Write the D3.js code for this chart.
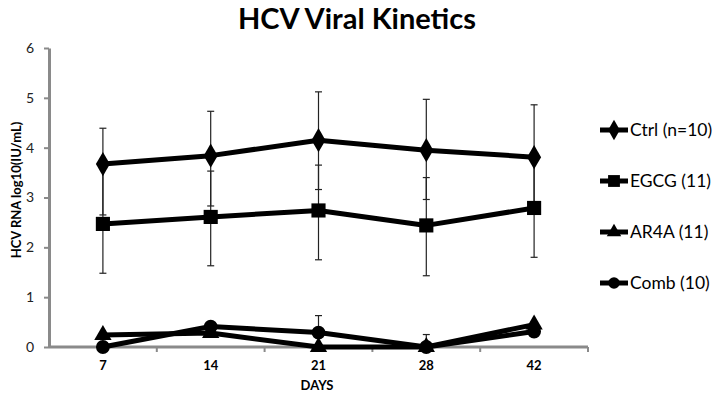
<!DOCTYPE html>
<html lang="en">
<head>
    <meta charset="UTF-8">
    <title>HCV Viral Kinetics</title>
    <script src="https://d3js.org/d3.v7.min.js"></script>
    <style>
        body {
            margin: 0;
            padding: 0;
            background-color: #ffffff;
            font-family: Lato, "Open Sans", sans-serif;
        }

        .title {
            font-size: 29px;
            font-weight: bold;
            text-anchor: middle;
        }

        .axis-label {
            font-size: 13px;
            font-weight: bold;
            text-anchor: middle;
        }

        .legend text {
            font-size: 17.5px;
        }
    </style>
</head>
<body>
    <div id="chart"></div>
    <script>
        // chart values
        const days = ["7", "14", "21", "28", "42"];
        const yTicks = [0, 1, 2, 3, 4, 5, 6];

        const seriesNames = ["Ctrl (n=10)", "EGCG (11)", "AR4A (11)", "Comb (10)"];
        const ctrl = [3.67, 3.84, 4.15, 3.95, 3.81];
        const egcg = [2.47, 2.61, 2.74, 2.44, 2.79];
        const ar4a = [0.24, 0.28, 0, 0, 0.45];
        const comb = [0, 0.41, 0.29, 0, 0.31];

        // error bars (plus / minus)
        const ctrlPlus = [0.72, 0.89, 0.97, 1.02, 1.05];
        const ctrlMinus = [1.02, 1.01, 0.99, 0.99, 1.03];
        const egcgPlus = [1.12, 0.92, 0.91, 0.96, 1.02];
        const egcgMinus = [0.99, 0.98, 0.99, 1.01, 0.99];
        const ar4aPlus = [0, 0, 0, 0, 0];
        const ar4aMinus = [0, 0, 0, 0, 0];
        const combPlus = [0, 0, 0.34, 0.25, 0];
        const combMinus = [0, 0, 0.34, 0.25, 0];

        const width = 721;
        const height = 402;
        const margin = { top: 48, right: 133, bottom: 55, left: 49 };

        const svg = d3.select("#chart")
            .append("svg")
            .attr("width", width)
            .attr("height", height);

        const x = d3.scaleBand()
            .domain(days)
            .range([margin.left, width - margin.right])
            .padding(0);

        const y = d3.scaleLinear()
            .domain([0, 6])
            .range([height - margin.bottom, margin.top]);

        const cx = d => x(d) + x.bandwidth() / 2;

        const axisColor = "#8a8a8a";

        // y axis
        const yAxis = svg.append("g")
            .attr("transform", `translate(${margin.left},0)`)
            .call(d3.axisLeft(y).tickValues(yTicks).tickFormat(d3.format("d"))
                .tickSize(5).tickSizeOuter(0).tickPadding(10));
        yAxis.select(".domain").attr("stroke", axisColor).attr("stroke-width", 3);
        yAxis.selectAll(".tick line").attr("stroke", axisColor).attr("stroke-width", 2);
        yAxis.selectAll(".tick text")
            .attr("fill", "#222")
            .style("font-family", "Lato, sans-serif")
            .style("font-size", "14px");

        // x axis: ticks between categories, labels at centers
        const xAxis = svg.append("g")
            .attr("transform", `translate(0,${y(0)})`);
        xAxis.append("line")
            .attr("x1", margin.left)
            .attr("x2", width - margin.right)
            .attr("stroke", axisColor)
            .attr("stroke-width", 3);
        const bounds = days.slice(1).map(d => x(d)).concat([x.range()[1]]);
        xAxis.selectAll("line.tk")
            .data(bounds)
            .enter()
            .append("line")
            .attr("class", "tk")
            .attr("x1", d => d)
            .attr("x2", d => d)
            .attr("y1", 0)
            .attr("y2", 5)
            .attr("stroke", axisColor)
            .attr("stroke-width", 2);
        xAxis.selectAll("text")
            .data(days)
            .enter()
            .append("text")
            .attr("x", d => cx(d))
            .attr("y", 23)
            .attr("text-anchor", "middle")
            .style("font-size", "13px")
            .style("font-weight", "bold")
            .text(d => d);

        // axis titles
        svg.append("text")
            .attr("class", "axis-label")
            .attr("x", 317)
            .attr("y", 390)
            .text("DAYS");

        svg.append("text")
            .attr("class", "axis-label")
            .attr("transform", "rotate(-90)")
            .attr("x", -190)
            .attr("y", 21)
            .text("HCV RNA log10(IU/mL)");

        svg.append("text")
            .attr("class", "title")
            .attr("x", 357)
            .attr("y", 29)
            .text("HCV Viral Kinetics");

        const series = [
            { name: seriesNames[0], values: ctrl, plus: ctrlPlus, minus: ctrlMinus, symbol: d3.symbolDiamond, size: 170 },
            { name: seriesNames[1], values: egcg, plus: egcgPlus, minus: egcgMinus, symbol: d3.symbolSquare, size: 200 },
            { name: seriesNames[2], values: ar4a, plus: ar4aPlus, minus: ar4aMinus, symbol: d3.symbolTriangle, size: 130 },
            { name: seriesNames[3], values: comb, plus: combPlus, minus: combMinus, symbol: d3.symbolCircle, size: 150 }
        ];

        // error bars first
        series.forEach(s => {
            const g = svg.append("g");
            days.forEach((d, i) => {
                if (s.plus[i] === 0 && s.minus[i] === 0) return;
                const top = y(s.values[i] + s.plus[i]);
                const bot = y(Math.max(0, s.values[i] - s.minus[i]));
                g.append("line")
                    .attr("x1", cx(d)).attr("x2", cx(d))
                    .attr("y1", top).attr("y2", bot)
                    .attr("stroke", "#222").attr("stroke-width", 1.2);
                g.append("line")
                    .attr("x1", cx(d) - 3.5).attr("x2", cx(d) + 3.5)
                    .attr("y1", top).attr("y2", top)
                    .attr("stroke", "#222").attr("stroke-width", 1.2);
                if (s.values[i] - s.minus[i] >= 0) {
                    g.append("line")
                        .attr("x1", cx(d) - 3.5).attr("x2", cx(d) + 3.5)
                        .attr("y1", bot).attr("y2", bot)
                        .attr("stroke", "#222").attr("stroke-width", 1.2);
                }
            });
        });

        const line = d3.line()
            .x((v, i) => cx(days[i]))
            .y(v => y(v));

        series.forEach(s => {
            svg.append("path")
                .datum(s.values)
                .attr("fill", "none")
                .attr("stroke", "#000")
                .attr("stroke-width", 5)
                .attr("stroke-linejoin", "round")
                .attr("d", line);

            svg.selectAll(null)
                .data(s.values)
                .enter()
                .append("path")
                .attr("transform", (v, i) => `translate(${cx(days[i])},${y(v)})`)
                .attr("d", d3.symbol().type(s.symbol).size(s.size))
                .attr("fill", "#000");
        });

        // legend
        const legend = svg.append("g").attr("class", "legend");
        const legendY = [130, 181, 232, 283];
        series.forEach((s, i) => {
            const g = legend.append("g").attr("transform", `translate(600,${legendY[i]})`);
            g.append("line")
                .attr("x1", 0).attr("x2", 28)
                .attr("stroke", "#000").attr("stroke-width", 5);
            g.append("path")
                .attr("transform", "translate(14,0)")
                .attr("d", d3.symbol().type(s.symbol).size(s.size * 0.7))
                .attr("fill", "#000");
            g.append("text")
                .attr("x", 30)
                .attr("y", 6)
                .text(s.name);
        });
    </script>
</body>
</html>
